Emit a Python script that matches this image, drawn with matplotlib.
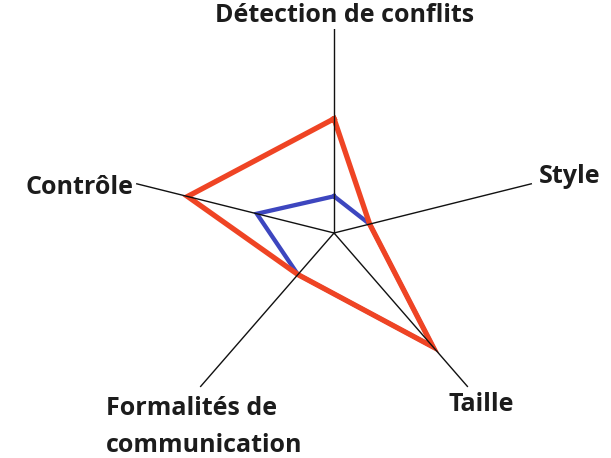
import numpy as np
import matplotlib.pyplot as plt

# Axis names and their directions (degrees, counter-clockwise from east)
labels = ['Détection de conflits', 'Style', 'Taille',
          'Formalités de\ncommunication', 'Contrôle']
angles_deg = [90, 14, -49, -131, 166]

# Scores, 0-10 scale
red_vals = [5.6, 1.8, 7.4, 2.7, 7.4]
blue_vals = [1.8, 1.8, 7.4, 2.7, 3.9]

r_max = 10


def main():
    theta = np.deg2rad(angles_deg)

    fig = plt.figure(figsize=(6.11, 4.58), dpi=100)
    ax = fig.add_axes([0.2128, 0.0459, 0.6678, 0.8908], projection='polar')
    ax.set_ylim(0, r_max)
    ax.grid(False)
    ax.set_xticks([])
    ax.set_yticks([])
    ax.spines['polar'].set_visible(False)

    # closed polygons
    th_closed = np.append(theta, theta[0])
    ax.plot(th_closed, blue_vals + blue_vals[:1], color='#3d46bf', linewidth=3.1,
            solid_joinstyle='miter', zorder=2)
    ax.plot(th_closed, red_vals + red_vals[:1], color='#ef4424', linewidth=3.8,
            solid_joinstyle='miter', zorder=3)

    # spokes on top
    for t in theta:
        ax.plot([t, t], [0, r_max], color='#111111', linewidth=1.0, zorder=4)

    font = dict(family='Open Sans', weight='bold', size=18, color='#1c1c1c')
    offsets = [(11, 13), (7, 7), (13, -18), (-94, -9), (-3, -4)]
    aligns = [('center', 'center'), ('left', 'center'), ('center', 'center'),
              ('left', 'top'), ('right', 'center')]
    for t, lab, off, (ha, va) in zip(theta, labels, offsets, aligns):
        ax.annotate(lab, xy=(t, r_max), xytext=off, textcoords='offset pixels',
                    ha=ha, va=va, multialignment='left', linespacing=1.65,
                    annotation_clip=False, **font)

    fig.savefig('out.png', dpi=100)


if __name__ == '__main__':
    main()
